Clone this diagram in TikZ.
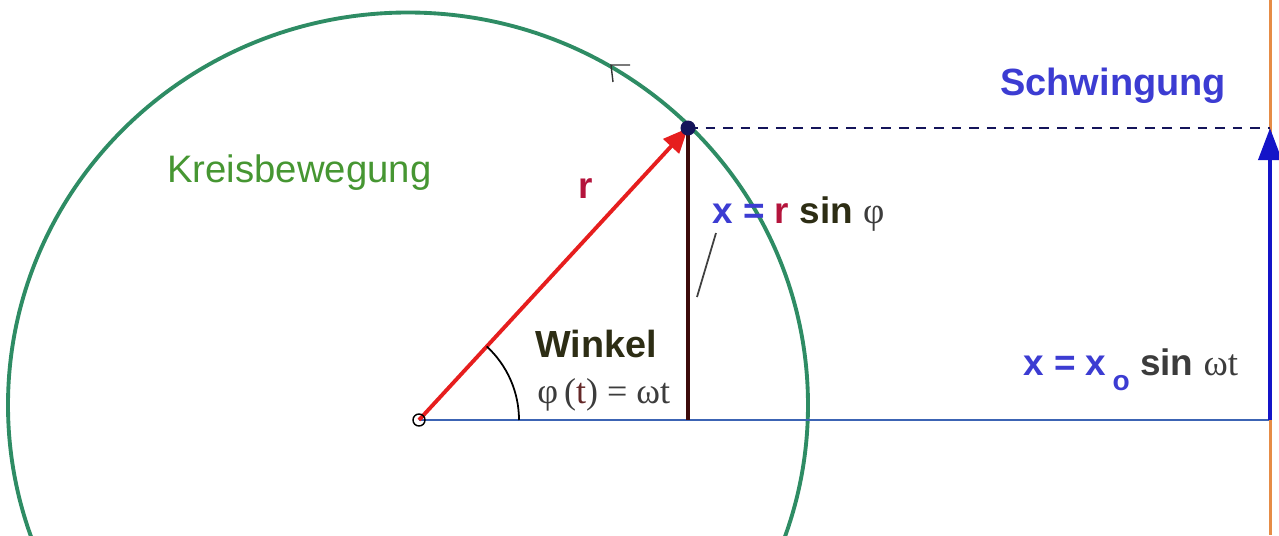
\documentclass[tikz,border=0pt]{standalone}
\usepackage{fontspec}
\setmainfont{Liberation Sans}
\newfontfamily\serifrm{Liberation Serif}
\usetikzlibrary{arrows.meta}
\definecolor{kreisgruen}{RGB}{46,140,100}
\definecolor{kreistext}{RGB}{70,150,50}
\definecolor{achsblau}{RGB}{60,100,180}
\definecolor{schwingblau}{RGB}{20,20,200}
\definecolor{textblau}{RGB}{60,60,210}
\definecolor{vektorrot}{RGB}{230,30,30}
\definecolor{rtext}{RGB}{180,20,60}
\definecolor{oliv}{RGB}{45,45,20}
\definecolor{braun}{RGB}{60,10,10}
\definecolor{strichblau}{RGB}{20,20,90}
\definecolor{orangelinie}{RGB}{230,140,70}
\definecolor{grautext}{RGB}{60,60,60}
\definecolor{ttext}{RGB}{100,40,40}
\tikzset{
    labeltext/.style={inner sep=0pt, anchor=base west},
    bigsf/.style={font=\bfseries\fontsize{21}{24}\selectfont}
}

\begin{document}
\begin{tikzpicture}[scale=1]

  % Rahmen
  \useasboundingbox (-8.38,-2.3) rectangle (17.2,8.4);
  \clip (-8.38,-2.3) rectangle (17.2,8.4);

  % Parameter
  \def\xP{5.38}   % Punkt auf dem Kreis
  \def\yP{5.84}
  \def\xS{17.02}  % Schwingungsachse

  % Punkte
  \coordinate (O) at (0,0);
  \coordinate (P) at (\xP,\yP);
  \coordinate (F) at (\xP,0);
  \coordinate (E) at (\xS,0);
  \coordinate (Q) at (\xS,\yP);
  \coordinate (Sunten) at (\xS,-2.3);
  \coordinate (Soben) at (\xS,8.4);

  % Kreis
  \draw[kreisgruen, line width=2.2pt] (-0.22,0.3) ellipse [x radius=8, y radius=7.85];

  % Drehsinn
  \draw[black!80, line width=0.8pt] (4.22,7.10) -- (3.84,7.10) -- (3.88,6.76);

  % Achse
  \draw[achsblau, line width=1.1pt] (O) -- (E);

  % Schwingungsachse
  \draw[orangelinie, line width=1.7pt] (Sunten) -- (Soben);
  \draw[schwingblau, line width=2.2pt, -{Triangle[length=0.64cm, width=0.46cm]}] (E) -- (Q);

  % Projektion gestrichelt
  \draw[strichblau, line width=1.5pt, dash pattern=on 5.5pt off 4.5pt] (P) -- (Q);

  % Sinus-Strecke
  \draw[braun, line width=2.2pt] (P) -- (F);

  % Radiusvektor
  \draw[vektorrot, line width=2.2pt, -{Triangle[length=0.5cm, width=0.42cm]}] (O) -- (P);
  \fill[strichblau] (P) circle (0.15);
  \draw[black, line width=0.8pt] (O) circle (0.12);

  % Winkel
  \draw[line width=1pt] (2,0) arc[start angle=0, end angle=47.35, radius=2];

  % Beschriftung
  \node[labeltext, text=kreistext, font=\fontsize{21.8}{24}\selectfont] (kreis) at (-5.04,4.76) {Kreisbewegung};
  \node[labeltext, bigsf, text=rtext] (rlabel) at (3.18,4.44) {r};
  \node[labeltext, bigsf] (xr) at (5.86,3.94)
    {\color{textblau}x = \color{rtext}r \color{oliv}sin \color{grautext}\mdseries\serifrm φ};
  \coordinate (leadoben) at (5.94,3.74);
  \coordinate (leadunten) at (5.56,2.46);
  \draw[black!75, line width=1pt] (leadoben) -- (leadunten);

  \node[labeltext, text=oliv, font=\bfseries\fontsize{21.5}{24}\selectfont] (winkel) at (2.32,1.26) {Winkel};
  \node[labeltext, text=grautext, font=\serifrm\fontsize{20.5}{23}\selectfont] (phi) at (2.36,0.34)
    {φ\,(\textcolor{ttext}{t}) = ωt};

  \node[labeltext, text=textblau, font=\bfseries\fontsize{21.6}{24}\selectfont] (schwing) at (11.62,6.5) {Schwingung};
  \node[labeltext, bigsf] (xs) at (12.08,0.9)
    {\color{textblau}x = x\,\raisebox{-0.3cm}{\fontsize{16}{16}\selectfont o} \color{grautext}sin \mdseries\serifrm ωt};

\end{tikzpicture}
\end{document}
